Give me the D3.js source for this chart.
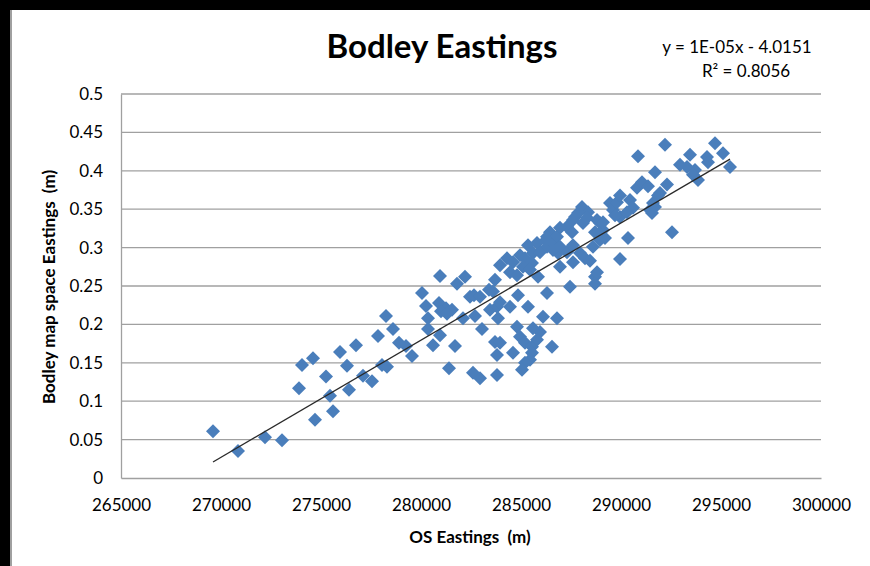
<!DOCTYPE html>
<html><head><meta charset="utf-8">
<script src="https://cdn.jsdelivr.net/npm/d3@7"></script>
<style>
html,body{margin:0;padding:0;background:#000;overflow:hidden;}
svg{display:block;}
text{font-family:Lato,"Open Sans",sans-serif;fill:#000;white-space:pre;}
</style></head><body>
<svg id="chart" width="870" height="566"></svg>
<script>
// ---- data ----
const osEastings = [
 269600,270850,272200,273050,273900,274050,274600,274700,275250,275450,275600,275950,276300,276400,276750,277100,277550,277850,278050,278300,278250,278600,278900,279250,279550,
 280050,280250,280350,280350,280600,280950,280900,281250,281000,281550,281300,280950,281400,281700,281800,282200,282100,282450,282650,282950,282700,282600,282950,283050,283400,283600,283700,283450,283800,283950,283850,283700,283950,283800,283800,
 283950,284300,284600,284950,285200,284450,284800,285100,285550,284850,284450,285350,284800,285600,285950,284950,285200,285550,285800,284600,285550,285450,285200,285050,
 285350,285800,285600,285950,286300,286600,285450,285850,286300,286100,286800,286550,
 286450,286300,286800,286250,286850,287300,286950,286600,287600,286950,287600,287450,287950,288200,288450,288700,288800,288700,288600,288950,288700,288950,289100,287300,286950,287550,287600,287700,288050,288350,287850,288300,288100,288800,
 289450,289600,289800,289950,289950,289700,290450,290600,290300,289100,289200,290350,289950,
 290800,291050,291350,291850,291550,291700,291450,291600,291950,292300,292550,291700,290850,292200,292950,293300,293450,293700,293600,293850,294300,294350,294700,295100,295450
];
const bodleyEastings = [
 0.061,0.035,0.053,0.049,0.117,0.147,0.156,0.076,0.132,0.107,0.087,0.164,0.146,0.115,0.173,0.133,0.126,0.185,0.147,0.145,0.211,0.194,0.176,0.172,0.159,
 0.241,0.224,0.208,0.194,0.173,0.263,0.228,0.221,0.217,0.219,0.214,0.186,0.143,0.172,0.253,0.262,0.208,0.236,0.238,0.236,0.211,0.137,0.130,0.194,0.245,0.243,0.258,0.219,0.223,0.229,0.208,0.177,0.176,0.160,0.134,
 0.277,0.286,0.281,0.290,0.286,0.268,0.264,0.275,0.280,0.238,0.223,0.223,0.197,0.195,0.190,0.184,0.176,0.171,0.180,0.163,0.163,0.154,0.150,0.141,
 0.303,0.306,0.293,0.294,0.301,0.307,0.271,0.262,0.241,0.210,0.208,0.171,
 0.320,0.314,0.314,0.310,0.293,0.294,0.301,0.297,0.303,0.275,0.281,0.249,0.293,0.286,0.283,0.262,0.268,0.253,0.301,0.310,0.320,0.332,0.323,0.327,0.326,0.320,0.336,0.340,0.353,0.346,0.345,0.339,0.332,0.336,
 0.358,0.349,0.359,0.368,0.340,0.342,0.362,0.352,0.346,0.333,0.3125,0.3125,0.285,
 0.378,0.385,0.380,0.368,0.345,0.353,0.349,0.358,0.371,0.382,0.320,0.398,0.419,0.434,0.408,0.405,0.421,0.401,0.395,0.388,0.418,0.411,0.436,0.423,0.405
];
const xTicks = [265000,270000,275000,280000,285000,290000,295000,300000];
const xTickLabels = ["265000","270000","275000","280000","285000","290000","295000","300000"];
const yTicks = [0,0.05,0.1,0.15,0.2,0.25,0.3,0.35,0.4,0.45,0.5];
const yTickLabels = ["0","0.05","0.1","0.15","0.2","0.25","0.3","0.35","0.4","0.45","0.5"];
const chartTitle = "Bodley Eastings";
const xAxisTitle = "OS Eastings  (m)";
const yAxisTitle = "Bodley map space Eastings  (m)";
const equationLines = ["y = 1E-05x - 4.0151", "R² = 0.8056"];

// ---- layout ----
const W = 870, H = 566;
const plot = {left:121, right:821, top:94, bottom:478};
const svg = d3.select("#chart");

// frame
svg.append("rect").attr("x",0).attr("y",0).attr("width",W).attr("height",H).attr("fill","#000");
svg.append("rect").attr("x",10).attr("y",10).attr("width",W-10).attr("height",H-10).attr("fill","#fff");
svg.append("line").attr("x1",11).attr("x2",11).attr("y1",10).attr("y2",H)
  .attr("stroke","#a0a0a0").attr("stroke-width",2);

const x = d3.scaleLinear().domain([xTicks[0], xTicks[xTicks.length-1]]).range([plot.left, plot.right]);
const y = d3.scaleLinear().domain([yTicks[0], yTicks[yTicks.length-1]]).range([plot.bottom, plot.top]);

// gridlines
svg.append("g").selectAll("line").data(yTicks.slice(1)).join("line")
  .attr("x1",plot.left).attr("x2",plot.right)
  .attr("y1",d=>y(d)).attr("y2",d=>y(d))
  .attr("stroke","#a0a0a0").attr("stroke-width",1.3);

// axes
const yAxis = d3.axisLeft(y).tickValues(yTicks).tickFormat((d,i)=>yTickLabels[i]).tickSize(0).tickPadding(18);
const gy = svg.append("g").attr("transform",`translate(${plot.left},0)`).call(yAxis);
gy.select(".domain").attr("stroke","#a0a0a0").attr("stroke-width",1.3);
gy.selectAll("text").attr("font-size",17).attr("font-family","Lato, sans-serif").attr("fill","#000");

const xAxis = d3.axisBottom(x).tickValues(xTicks).tickFormat((d,i)=>xTickLabels[i]).tickSize(0).tickPadding(21);
const gx = svg.append("g").attr("transform",`translate(0,${plot.bottom})`).call(xAxis);
gx.select(".domain").attr("stroke","#a0a0a0").attr("stroke-width",1.3);
gx.selectAll("text").attr("font-size",17).attr("font-family","Lato, sans-serif").attr("fill","#000");

// points
const pts = osEastings.map((v,i)=>({x:v, y:bodleyEastings[i]}));
const diamond = d3.symbol().type(d3.symbolSquare).size(98);
svg.append("g").selectAll("path").data(pts).join("path")
  .attr("d", diamond)
  .attr("transform", d=>`translate(${x(d.x)},${y(d.y)}) rotate(45)`)
  .attr("fill","#4a7ebb");

// linear trendline (least squares)
const mx = d3.mean(pts,d=>d.x), my = d3.mean(pts,d=>d.y);
let sxy=0, sxx=0;
pts.forEach(d=>{sxy+=(d.x-mx)*(d.y-my); sxx+=(d.x-mx)*(d.x-mx);});
const slope = sxy/sxx, intercept = my - slope*mx;
const [xmin,xmax] = d3.extent(pts,d=>d.x);
svg.append("line")
  .attr("x1",x(xmin)).attr("y1",y(slope*xmin+intercept))
  .attr("x2",x(xmax)).attr("y2",y(slope*xmax+intercept))
  .attr("stroke","#2a2a2a").attr("stroke-width",1.3);

// titles
svg.append("text").attr("x",442).attr("y",58).attr("text-anchor","middle")
  .attr("font-size",33).attr("font-weight","bold").text(chartTitle);
svg.append("text").attr("x",737).attr("y",53).attr("text-anchor","middle")
  .attr("font-size",17).text(equationLines[0]);
svg.append("text").attr("x",746).attr("y",77).attr("text-anchor","middle")
  .attr("font-size",17).text(equationLines[1]);
svg.append("text").attr("x",470).attr("y",543).attr("text-anchor","middle")
  .attr("font-size",17).attr("font-weight","bold").text(xAxisTitle);
svg.append("text").attr("transform","translate(55,287) rotate(-90)").attr("text-anchor","middle")
  .attr("font-size",17).attr("font-weight","bold").text(yAxisTitle);
</script>
</body></html>
